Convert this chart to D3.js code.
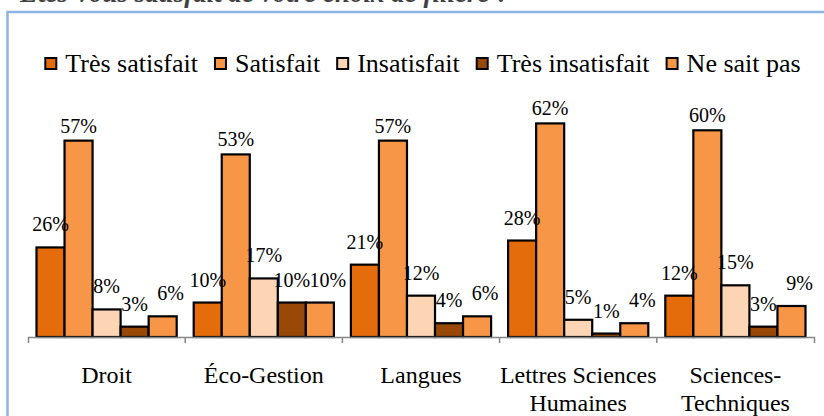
<!DOCTYPE html>
<html>
<head>
<meta charset="utf-8">
<script src="https://cdn.jsdelivr.net/npm/d3@7"></script>
<style>
  body { margin: 0; background: #fff; }
  #chart_div { width: 824px; height: 416px; overflow: hidden; }
</style>
</head>
<body>
<div id="chart_div"></div>
<script>

// data (percent)
let categories = ["Droit", "Éco-Gestion", "Langues", "Lettres Sciences Humaines", "Sciences-Techniques"]
let series_names = ["Très satisfait", "Satisfait", "Insatisfait", "Très insatisfait", "Ne sait pas"]

let tres_satisfait = [26, 10, 21, 28, 12]
let satisfait = [57, 53, 57, 62, 60]
let insatisfait = [8, 17, 12, 5, 15]
let tres_insatisfait = [3, 10, 4, 1, 3]
let ne_sait_pas = [6, 10, 6, 4, 9]

let title = "Êtes-vous satisfait de votre choix de filière ?"

let colors = ["#e46c0a", "#f79646", "#fcd5b5", "#984807", "#f79646"]

let font = "Liberation Serif"

let width = 824
let height = 416
let base_y = 337
let px_per_pct = 3.445

window.onload = function () {
  let values = [tres_satisfait, satisfait, insatisfait, tres_insatisfait, ne_sait_pas]
  draw(values)
}

function draw(values) {

  let svg = d3.select("#chart_div")
    .append("svg")
    .attr("width", width)
    .attr("height", height)

  // light blue frame, runs off the right and bottom edges
  svg.append("rect")
    .attr("x", 7.5)
    .attr("y", 12)
    .attr("width", 860)
    .attr("height", 460)
    .attr("fill", "none")
    .attr("stroke", "#8db3e2")
    .attr("stroke-width", 2.5)

  // title, cut off at the top of the picture like in the original
  svg.append("text")
    .attr("x", 20)
    .attr("y", 2)
    .attr("font-family", font)
    .attr("font-size", 27)
    .attr("font-style", "italic")
    .attr("font-weight", "bold")
    .attr("fill", "#404040")
    .text(title)

  let x0 = d3.scaleBand()
    .domain(categories)
    .range([28, 814])

  let x1 = d3.scaleBand()
    .domain(series_names)
    .range([8.5, x0.bandwidth() - 8.5])

  let y = d3.scaleLinear()
    .domain([0, 70])
    .range([base_y, base_y - 70 * px_per_pct])

  // bars
  for (let i = 0; i < series_names.length; i++) {
    svg.append("g")
      .selectAll("rect")
      .data(values[i])
      .join("rect")
      .attr("x", (d, j) => x0(categories[j]) + x1(series_names[i]))
      .attr("y", d => y(d))
      .attr("width", x1.bandwidth())
      .attr("height", d => y(0) - y(d))
      .attr("fill", colors[i])
      .attr("stroke", "#000")
      .attr("stroke-width", 2.2)
  }

  // axis: line with end ticks, plus ticks between categories
  let axis = svg.append("g")
    .attr("transform", "translate(0," + base_y + ")")
    .call(d3.axisBottom(x0).tickSize(0).tickSizeOuter(6).tickFormat(""))
  axis.select(".domain").attr("stroke", "#868686").attr("stroke-width", 1.5)

  axis.selectAll(".sep")
    .data(categories.slice(1))
    .join("line")
    .attr("class", "sep")
    .attr("x1", d => x0(d))
    .attr("x2", d => x0(d))
    .attr("y1", 0)
    .attr("y2", 6)
    .attr("stroke", "#868686")
    .attr("stroke-width", 1.5)

  // category labels, wrapped like excel does
  let cat_g = svg.append("g")
  categories.forEach(c => {
    let lines = wrap(cat_g, c, 165, 24)
    let t = cat_g.append("text")
      .attr("text-anchor", "middle")
      .attr("font-family", font)
      .attr("font-size", 24)
      .attr("fill", "#000")
    lines.forEach((l, k) => {
      t.append("tspan")
        .attr("x", x0(c) + x0.bandwidth() / 2)
        .attr("y", 383 + k * 28)
        .text(l)
    })
  })

  // data labels
  let gap = [16, 8, 16, 16, 16]
  let dx = [0, 0, 0, 0, 8]
  for (let i = 0; i < series_names.length; i++) {
    svg.append("g")
      .selectAll("text")
      .data(values[i])
      .join("text")
      .attr("x", (d, j) => x0(categories[j]) + x1(series_names[i]) + x1.bandwidth() / 2 + dx[i])
      .attr("y", d => y(d) - gap[i])
      .attr("text-anchor", "middle")
      .attr("font-family", font)
      .attr("font-size", 20)
      .attr("fill", "#000")
      .text(d => d + "%")
  }

  // legend
  let legend = svg.append("g")
  let cursor = 0
  series_names.forEach((s, i) => {
    legend.append("rect")
      .attr("x", cursor + 1)
      .attr("y", 58)
      .attr("width", 11)
      .attr("height", 11)
      .attr("fill", colors[i])
      .attr("stroke", "#000")
      .attr("stroke-width", 2)
    let t = legend.append("text")
      .attr("x", cursor + 21)
      .attr("y", 72)
      .attr("font-family", font)
      .attr("font-size", 26)
      .attr("fill", "#000")
      .text(s)
    cursor += 21 + t.node().getComputedTextLength() + 16
  })
  let total = cursor - 16
  legend.attr("transform", "translate(" + (422.5 - total / 2) + ",0)")
}

function wrap(g, label, max_w, size) {
  let parts = label.split(/\s+/)
  let tokens = []
  parts.forEach(p => {
    let bits = p.split(/(?<=-)/)
    bits.forEach((b, k) => tokens.push({ txt: b, join: k == 0 ? " " : "" }))
  })
  let tmp = g.append("text").attr("font-family", font).attr("font-size", size)
  let lines = []
  let cur = ""
  tokens.forEach((tk, k) => {
    let test = cur == "" ? tk.txt : cur + tk.join + tk.txt
    tmp.text(test)
    if (tmp.node().getComputedTextLength() > max_w && cur != "") {
      lines.push(cur)
      cur = tk.txt
    } else {
      cur = test
    }
  })
  if (cur != "") lines.push(cur)
  tmp.remove()
  return lines
}

</script>
</body>
</html>
